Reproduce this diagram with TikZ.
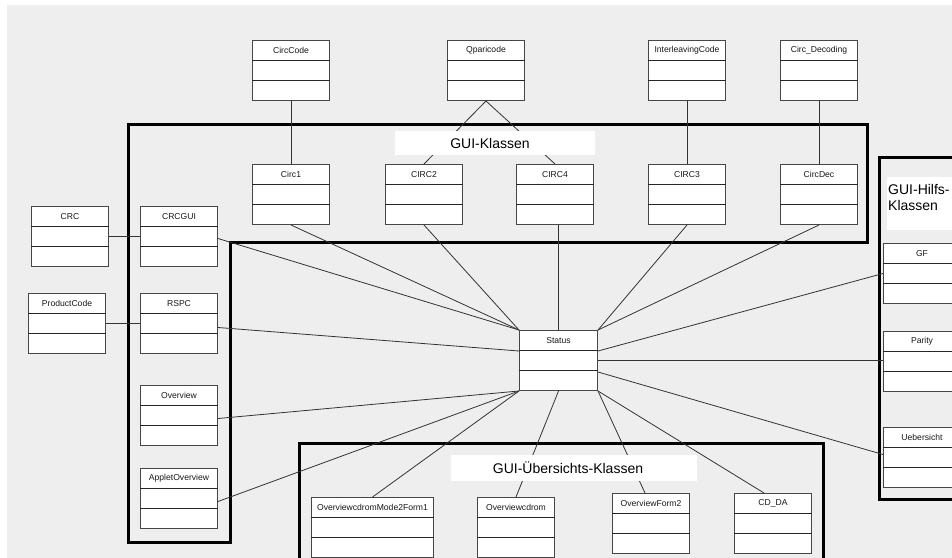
\documentclass[tikz,border=0pt]{standalone}
\usepackage{fontspec}
\setmainfont{Liberation Sans}
\definecolor{bggray}{RGB}{238,238,238}
\definecolor{boxgray}{RGB}{70,70,70}
\newcommand\clsbox[5]{%
  \node[cls, minimum width=#4pt] (#1) at (#2,#3) {};
  \draw[clsline] ([yshift=-20pt]#1.north west) -- ([yshift=-20pt]#1.north east);
  \draw[clsline] ([yshift=-40pt]#1.north west) -- ([yshift=-40pt]#1.north east);
  \node[clstext] (#1-t) at ([yshift=-10.5pt]#1.north) {#5};
}
\begin{document}
\begin{tikzpicture}[x=1pt,y=-1pt,
  cls/.style={rectangle, draw=boxgray, fill=white, line width=1pt, minimum height=60pt, inner sep=0pt, anchor=north west},
  clsline/.style={draw=black!85, line width=0.9pt},
  clstext/.style={font=\fontsize{8.6}{9.5}\selectfont, inner sep=0pt, text=black!90},
  conn/.style={draw=black!80, line width=0.8pt},
  grpframe/.style={draw=black, line width=3pt},
  lblbox/.style={fill=white, draw=none},
  lbltext/.style={font=\fontsize{14}{16.5}\selectfont, inner sep=0pt}]
\useasboundingbox (0,0) rectangle (952,557);
\clip (0,0) rectangle (952,557);
\fill[bggray] (7,5) rectangle (960,570);
% group frames
\draw[grpframe] (128,124) -- (867,124) -- (867,242) -- (230,242) -- (230,542) -- (128,542) -- cycle;
\draw[grpframe] (965,157) -- (879,157) -- (879,499) -- (965,499);
\draw[grpframe] (299,570) -- (299,443) -- (823,443) -- (823,570);
% top classes
\clsbox{CircCode}{252}{40}{77}{CircCode}
\clsbox{Qparicode}{447}{40}{77}{Qparicode}
\clsbox{InterleavingCode}{648}{40}{77}{InterleavingCode}
\clsbox{CircDecoding}{780}{40}{77}{Circ\_Decoding}
% GUI-Klassen
\clsbox{Circ1}{252}{164}{77}{Circ1}
\clsbox{CIRC2}{385}{164}{77}{CIRC2}
\clsbox{CIRC4}{516}{164}{77}{CIRC4}
\clsbox{CIRC3}{648}{164}{77}{CIRC3}
\clsbox{CircDec}{780}{164}{77}{CircDec}
\clsbox{CRCGUI}{140}{206}{77}{CRCGUI}
\clsbox{RSPC}{140}{293}{77}{RSPC}
\clsbox{Overview}{140}{385}{77}{Overview}
\clsbox{AppletOverview}{140}{468}{77}{AppletOverview}
% outside left
\clsbox{CRC}{31}{206}{77}{CRC}
\clsbox{ProductCode}{28}{293}{77}{ProductCode}
% center
\clsbox{Status}{519}{330}{78}{Status}
% helper classes
\clsbox{GF}{883}{243}{77}{GF}
\clsbox{Parity}{883}{331}{77}{Parity}
\clsbox{Uebersicht}{883}{427}{77}{Uebersicht}
% overview classes
\clsbox{OCMTwoF}{311}{497}{122}{OverviewcdromMode2Form1}
\clsbox{Overviewcdrom}{477}{497}{77}{Overviewcdrom}
\clsbox{OverviewForm2}{612}{493}{77}{OverviewForm2}
\clsbox{CDDA}{734}{493}{77}{CD\_DA}
% connectors
\draw[conn] (CircCode.south) -- (Circ1.north);
\draw[conn] (Qparicode.south) -- (CIRC2.north);
\draw[conn] (Qparicode.south) -- (CIRC4.north);
\draw[conn] (InterleavingCode.south) -- (CIRC3.north);
\draw[conn] (CircDecoding.south) -- (CircDec.north);
\draw[conn] (CRC.east) -- (CRCGUI.west);
\draw[conn] (ProductCode.east) -- (RSPC.west);
\draw[conn] (Circ1.south) -- (Status.north west);
\draw[conn] (CIRC2.south) -- (Status.north west);
\draw[conn] (Status.north |- CIRC4.south) -- (Status.north);
\draw[conn] (CIRC3.south) -- (Status.north east);
\draw[conn] (CircDec.south) -- (Status.north east);
\draw[conn] ([yshift=-2pt]CRCGUI.east) -- (Status.north west);
\draw[conn] ([yshift=-4pt]RSPC.east) -- ([yshift=-21pt]Status.north west);
\draw[conn] ([yshift=-3pt]Overview.east) -- (Status.south west);
\draw[conn] ([yshift=-3pt]AppletOverview.east) -- (Status.south west);
\draw[conn] (OCMTwoF.north) -- (Status.south west);
\draw[conn] (Overviewcdrom.north) -- (Status.south);
\draw[conn] ([xshift=-6pt]OverviewForm2.north) -- (Status.south east);
\draw[conn] ([xshift=-9pt]CDDA.north) -- (Status.south east);
\draw[conn] ([yshift=-21pt]Status.north east) -- (GF.west);
\draw[conn] (Status.east) -- (Status.east -| Parity.west);
\draw[conn] ([yshift=-42pt]Status.north east) -- ([yshift=3pt]Uebersicht.west);
% group labels
\fill[lblbox] (395,131) rectangle (595,155);
\node[lbltext] (lblGUI) at (490,143) {GUI-Klassen};
\fill[lblbox] (887,177) rectangle (960,230);
\node[lbltext, anchor=north west, align=left] (lblHilfs) at (888,184) {GUI-Hilfs-\\Klassen};
\fill[lblbox] (451,455) rectangle (697,481);
\node[lbltext] (lblUeb) at (568,468) {GUI-Übersichts-Klassen};
\end{tikzpicture}
\end{document}
